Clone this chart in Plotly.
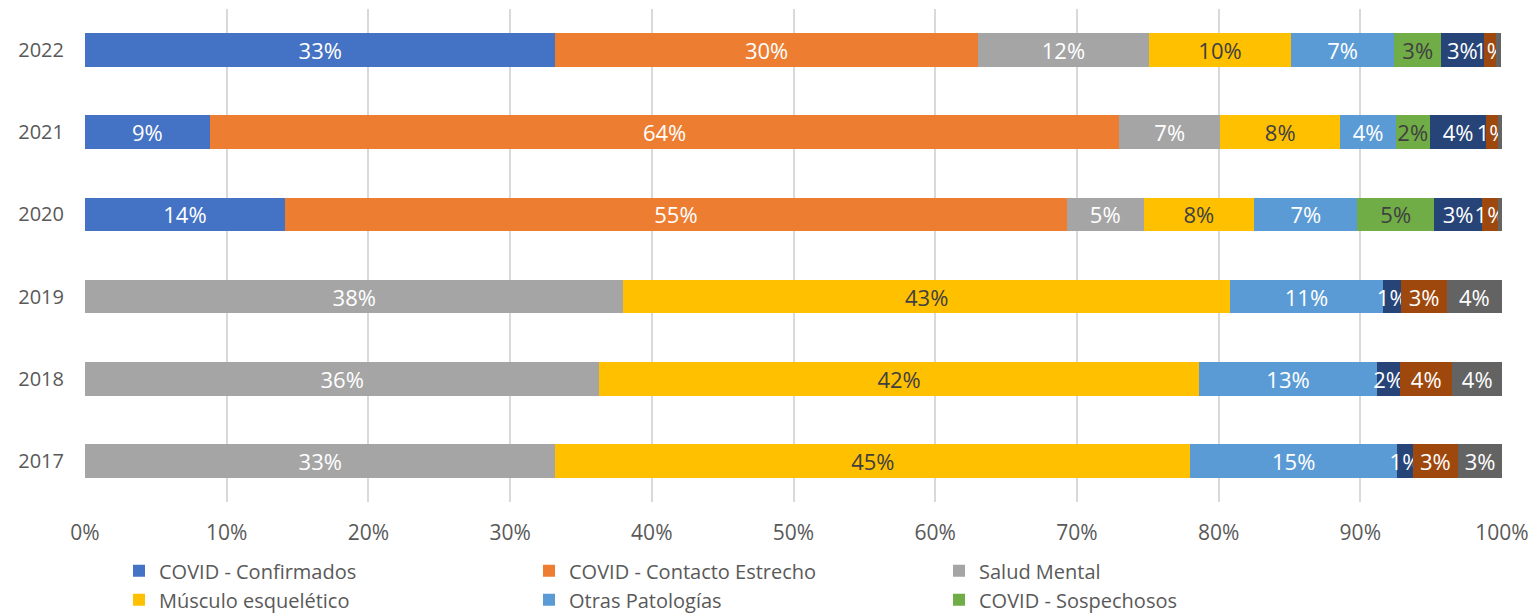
import plotly.graph_objects as go

# Años (eje de categorías) y porcentaje de cada causa por año
anios = ["2017", "2018", "2019", "2020", "2021", "2022"]

covid_confirmados = [0, 0, 0, 14.1, 8.8, 33.2]
covid_contacto = [0, 0, 0, 55.2, 64.2, 29.8]
salud_mental = [33.2, 36.3, 38.0, 5.4, 7.1, 12.1]
musculo_esqueletico = [44.8, 42.3, 42.8, 7.8, 8.5, 10.0]
otras_patologias = [14.6, 12.6, 10.8, 7.3, 3.9, 7.3]
covid_sospechosos = [0, 0, 0, 5.4, 2.4, 3.3]
serie7 = [1.1, 1.6, 1.3, 3.4, 4.0, 3.0]
serie8 = [3.2, 3.7, 3.2, 1.1, 0.8, 0.85]
serie9 = [3.1, 3.5, 3.9, 0.3, 0.3, 0.4]

series = [
    ("COVID - Confirmados", covid_confirmados, "#4472C4", "white", True),
    ("COVID - Contacto Estrecho", covid_contacto, "#ED7D31", "white", True),
    ("Salud Mental", salud_mental, "#A5A5A5", "white", True),
    ("Músculo esquelético", musculo_esqueletico, "#FFC000", "#404040", True),
    ("Otras Patologías", otras_patologias, "#5B9BD5", "white", True),
    ("COVID - Sospechosos", covid_sospechosos, "#70AD47", "#404040", True),
    ("Serie7", serie7, "#264478", "white", False),
    ("Serie8", serie8, "#9E480E", "white", False),
    ("Serie9", serie9, "#636363", "white", False),
]

FONT = "Open Sans"

fig = go.Figure()
for nombre, valores, color, color_texto, en_leyenda in series:
    etiquetas = [f"{round(v)}%" if round(v) > 0 else "" for v in valores]
    fig.add_trace(go.Bar(
        y=anios,
        x=valores,
        name=nombre,
        orientation="h",
        marker=dict(color=color, line=dict(width=0)),
        text=etiquetas,
        textposition="inside",
        insidetextanchor="middle",
        textangle=0,
        constraintext="none",
        cliponaxis=False,
        textfont=dict(family=FONT, size=22, color=color_texto),
        showlegend=en_leyenda,
    ))

fig.update_layout(
    barmode="stack",
    bargap=0.59,
    width=1534,
    height=613,
    margin=dict(l=85, r=32, t=9, b=111, autoexpand=False),
    paper_bgcolor="white",
    plot_bgcolor="white",
    font=dict(family=FONT, size=20, color="#595959"),
    xaxis=dict(
        range=[0, 100],
        tickvals=[0, 10, 20, 30, 40, 50, 60, 70, 80, 90, 100],
        ticktext=["0%", "10%", "20%", "30%", "40%", "50%", "60%", "70%", "80%", "90%", "100%"],
        showgrid=True,
        gridcolor="#D9D9D9",
        gridwidth=2,
        zeroline=False,
        showline=False,
        ticklabelstandoff=16,
        tickfont=dict(family=FONT, size=21, color="#595959"),
    ),
    yaxis=dict(
        categoryorder="array",
        categoryarray=anios,
        showgrid=False,
        zeroline=False,
        showline=False,
        ticklabelstandoff=20,
        tickfont=dict(family=FONT, size=20, color="#595959"),
    ),
    legend=dict(
        orientation="h",
        x=0.024,
        xanchor="left",
        y=-0.1,
        yanchor="top",
        entrywidth=365,
        traceorder="normal",
        font=dict(family=FONT, size=20, color="#595959"),
        tracegroupgap=0,
        itemclick=False,
    ),
)

fig.write_html("out.html")
